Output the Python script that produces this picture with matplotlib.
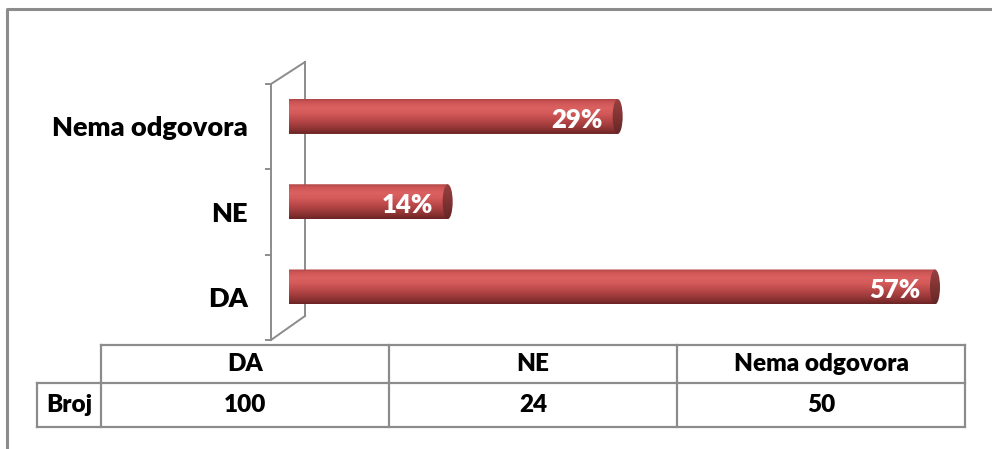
import matplotlib

matplotlib.use("Agg")
import matplotlib.pyplot as plt
import numpy as np
from matplotlib.colors import LinearSegmentedColormap
from matplotlib.patches import Ellipse, PathPatch
from matplotlib.path import Path
from matplotlib.transforms import offset_copy

categories = ["DA", "NE", "Nema odgovora"]
percent = [57, 14, 29]
counts = [100, 24, 50]
row_label = "Broj"

W, H = 992, 449
fig = plt.figure(figsize=(W / 100, H / 100), dpi=100)
fig.patch.set_facecolor("white")

# background layer in pixel coordinates: frame, 3D wall and data table
bg = fig.add_axes([0, 0, 1, 1])
bg.set_xlim(0, W)
bg.set_ylim(H, 0)
bg.axis("off")

grey = "#8c8c8c"
bg.plot([7, 7, W], [H, 9, 9], color=grey, lw=2.2, solid_capstyle="butt")

# wall: front edge, back edge and the two slanted edges
fx, bx = 271, 305
bg.plot([fx, fx], [84, 340], color=grey, lw=1.4)
bg.plot([bx, bx], [62, 316], color=grey, lw=1.4)
bg.plot([fx, bx], [84, 62], color=grey, lw=1.4)
bg.plot([fx, bx], [340, 316], color=grey, lw=1.4)
for ty in np.linspace(84, 340, 4):
    bg.plot([fx - 5, fx], [ty, ty], color=grey, lw=1.4)

# data table
col_x = [101, 389, 677, 965]
row_y = [345, 383, 427]
tc = "#8c8c8c"
bg.plot([col_x[0], col_x[-1]], [row_y[0], row_y[0]], color=tc, lw=1.6)
bg.plot([37, col_x[-1]], [row_y[1], row_y[1]], color=tc, lw=1.6)
bg.plot([37, col_x[-1]], [row_y[2], row_y[2]], color=tc, lw=1.6)
bg.plot([37, 37], [row_y[1], row_y[2]], color=tc, lw=1.6)
for cx in col_x:
    bg.plot([cx, cx], [row_y[0], row_y[2]], color=tc, lw=1.6)

FONT = "Lato"
WEIGHT = "heavy"

tfont = dict(family=FONT, weight=WEIGHT, size=17.5, color="black",
             ha="center", va="center")
for i, (cat, n) in enumerate(zip(categories, counts)):
    xc = (col_x[i] + col_x[i + 1]) / 2
    bg.text(xc, (row_y[0] + row_y[1]) / 2, cat, **tfont)
    bg.text(xc, (row_y[1] + row_y[2]) / 2, str(n), **tfont)
bg.text(69, (row_y[1] + row_y[2]) / 2, row_label, **tfont)

# bar layer: x in percent, one row per category
ax = fig.add_axes([289 / W, 1 - 329.6 / H, 680 / W, 255.75 / H])
ax.set_xlim(0, 60)
ax.set_ylim(-0.5, 2.5)
ax.axis("off")
ax.patch.set_alpha(0)

body_cmap = LinearSegmentedColormap.from_list(
    "body",
    [(0.0, "#6a2323"), (0.12, "#883131"), (0.35, "#b34444"),
     (0.6, "#d55a5a"), (0.75, "#db6161"), (0.9, "#cf5656"), (1.0, "#b04646")],
)
cap_cmap = LinearSegmentedColormap.from_list(
    "cap", [(0.0, "#652626"), (0.5, "#803333"), (1.0, "#9a4141")]
)
grad = np.linspace(0, 1, 256).reshape(-1, 1)

px_per_unit = 680 / 60
cap_w = 10 / px_per_unit
bar_h = 0.41

for i, v in enumerate(percent):
    y0, y1 = i - bar_h / 2, i + bar_h / 2
    t = np.linspace(np.pi / 2, 3 * np.pi / 2, 40)
    arc = np.column_stack([cap_w / 2 * np.cos(t), i + bar_h / 2 * np.sin(t)])
    verts = np.vstack([[[v, y1]], arc, [[v, y0]], [[v, y1]]])
    codes = [Path.MOVETO] + [Path.LINETO] * (len(verts) - 2) + [Path.CLOSEPOLY]
    body = PathPatch(Path(verts, codes), facecolor="none", edgecolor="none")
    ax.add_patch(body)
    im = ax.imshow(grad, cmap=body_cmap, origin="lower", aspect="auto",
                   extent=(-cap_w, v + cap_w, y0, y1), interpolation="bilinear")
    im.set_clip_path(body)

    cap = Ellipse((v, i), cap_w, bar_h, facecolor="none", edgecolor="none")
    ax.add_patch(cap)
    ci = ax.imshow(grad, cmap=cap_cmap, origin="lower", aspect="auto",
                   extent=(v - cap_w, v + cap_w, y0, y1), interpolation="bilinear")
    ci.set_clip_path(cap)

    ax.text(v - 1.3, i - 0.04, f"{v}%", ha="right", va="center",
            family=FONT, weight=WEIGHT, size=18.5, color="white")

# category names sit on the front plane of the wall
lab_tr = offset_copy(ax.transData, fig=fig, x=-41, y=-12, units="dots")
for i, cat in enumerate(categories):
    ax.text(0, i, cat, transform=lab_tr, ha="right", va="center",
            family=FONT, weight=WEIGHT, size=19.5, color="black")

ax.set_xlim(0, 60)
ax.set_ylim(-0.5, 2.5)

fig.savefig("out.png", dpi=100)
